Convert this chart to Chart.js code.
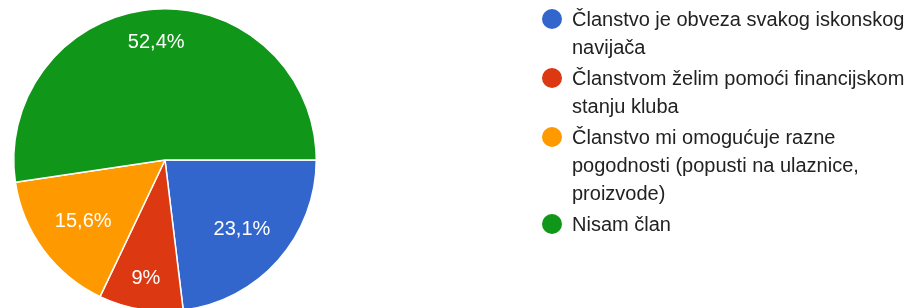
<!DOCTYPE html>
<html>
<head>
<meta charset="utf-8">
<script src="https://cdn.jsdelivr.net/npm/chart.js@4"></script>
<style>
  html, body { margin: 0; padding: 0; background: #fff; overflow: hidden; }
  #wrap { position: relative; width: 917px; height: 308px; overflow: hidden; }
  #pie { position: absolute; left: 0; top: 0; }
  #legend { position: absolute; left: 542px; top: 5px; width: 375px; font-family: 'Liberation Sans', Arial, sans-serif; font-size: 20px; line-height: 28px; color: #222; }
  .item { position: relative; padding-left: 30px; margin-bottom: 3px; }
  .dot { position: absolute; left: 0; top: 4px; width: 20px; height: 20px; border-radius: 50%; }
</style>
</head>
<body>
<div id="wrap">
  <canvas id="pie" width="917" height="322"></canvas>
  <div id="legend"></div>
</div>
<script>
const labels = [
    'Članstvo je obveza svakog iskonskog navijača',
    'Članstvom želim pomoći financijskom stanju kluba',
    'Članstvo mi omogućuje razne pogodnosti (popusti na ulaznice, proizvode)',
    'Nisam član'
];
const percents = [23.1, 9, 15.6, 52.4];
const colors = ['#3366cc', '#dc3912', '#ff9900', '#109618'];

// percentage text inside each slice, pulled in so the text box stays inside
const sliceLabels = {
    id: 'sliceLabels',
    afterDatasetsDraw(chart) {
        const ctx = chart.ctx;
        const meta = chart.getDatasetMeta(0);
        ctx.save();
        ctx.fillStyle = '#fff';
        ctx.font = '20px "Liberation Sans", Arial, sans-serif';
        ctx.textAlign = 'center';
        ctx.textBaseline = 'middle';
        meta.data.forEach((arc, i) => {
            const txt = String(percents[i]).replace('.', ',') + '%';
            const w = ctx.measureText(txt).width;
            const h = 16;
            const mid = (arc.startAngle + arc.endAngle) / 2;
            const c = Math.cos(mid), s = Math.sin(mid);
            const r = arc.outerRadius * 0.855 - (w / 2 * Math.abs(c) + h / 2 * Math.abs(s));
            ctx.fillText(txt, arc.x + c * r, arc.y + s * r + 1);
        });
        ctx.restore();
    }
};

const chart = new Chart(document.getElementById('pie').getContext('2d'), {
    type: 'pie',
    data: {
        labels: labels,
        datasets: [{
            data: percents,
            backgroundColor: colors,
            borderColor: '#fff',
            borderWidth: 1.5
        }]
    },
    options: {
        responsive: false,
        animation: false,
        rotation: 90,
        layout: { padding: { left: 13, top: 8, right: 600, bottom: 10 } },
        plugins: {
            legend: { display: false },
            tooltip: { enabled: false }
        }
    },
    plugins: [sliceLabels]
});

const legend = document.getElementById('legend');
labels.forEach((text, i) => {
    const item = document.createElement('div');
    item.className = 'item';
    const dot = document.createElement('span');
    dot.className = 'dot';
    dot.style.background = colors[i];
    item.appendChild(dot);
    item.appendChild(document.createTextNode(text));
    legend.appendChild(item);
});
</script>
</body>
</html>
